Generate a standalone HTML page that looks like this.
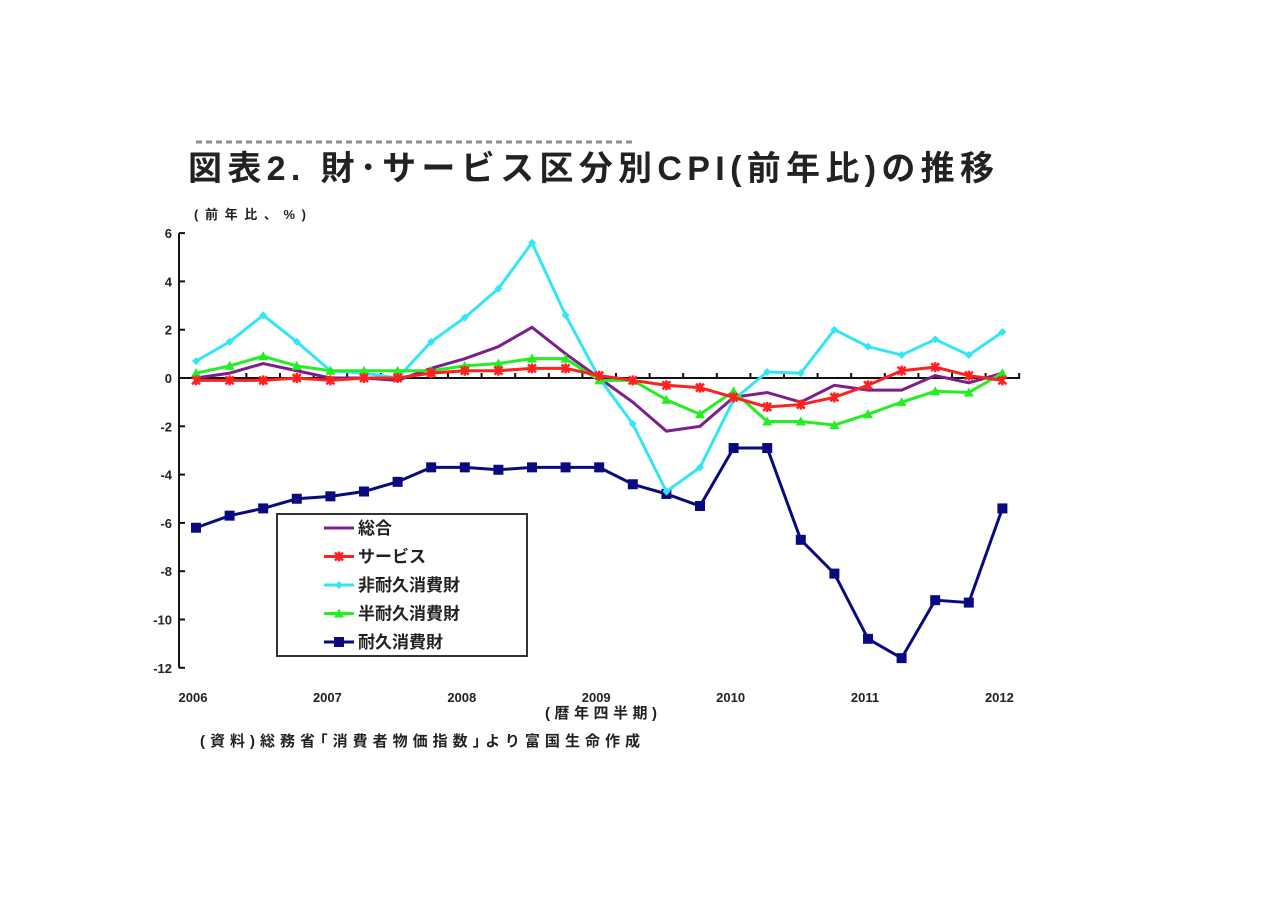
<!DOCTYPE html>
<html><head><meta charset="utf-8"><style>
body{margin:0;background:#fff;width:1280px;height:905px;overflow:hidden;font-family:"Liberation Sans","Noto Sans CJK JP",sans-serif;}
svg text{font-family:"Liberation Sans","Noto Sans CJK JP",sans-serif;}
</style></head><body>
<svg id="chart" width="1280" height="905">
<g><line x1="196" y1="142" x2="636" y2="142" stroke="#444" stroke-width="3" stroke-dasharray="6 4" opacity="0.6"/></g>
<text x="188" y="180" font-size="34" font-weight="bold" fill="#222" textLength="806" lengthAdjust="spacing">図表2. 財･サービス区分別CPI(前年比)の推移</text>
<text x="194" y="219" font-size="13" font-weight="bold" fill="#222" textLength="112" lengthAdjust="spacing">(前年比、%)</text>
<g id="axes"></g><g id="series"></g>
<g>
<rect x="277" y="514" width="250" height="142" fill="#fff" stroke="#333" stroke-width="2"/>
<g id="legend-items"></g>
</g>
<text x="545" y="718" font-size="15" font-weight="bold" fill="#222" textLength="112" lengthAdjust="spacing">(暦年四半期)</text>
<text x="200" y="746" font-size="15" font-weight="bold" fill="#222" textLength="440" lengthAdjust="spacing">(資料)総務省｢消費者物価指数｣より富国生命作成</text>
</svg>
<script>
const yTicks=[6,4,2,0,-2,-4,-6,-8,-10,-12];
const yearLabels=["2006","2007","2008","2009","2010","2011","2012"];
const seriesNames=["総合","サービス","非耐久消費財","半耐久消費財","耐久消費財"];
const total=[0.0,0.2,0.6,0.3,0.0,0.0,-0.1,0.4,0.8,1.3,2.1,1.0,0.0,-1.0,-2.2,-2.0,-0.8,-0.6,-1.0,-0.3,-0.5,-0.5,0.1,-0.2,0.2];
const service=[-0.1,-0.1,-0.1,0.0,-0.1,0.0,0.0,0.2,0.3,0.3,0.4,0.4,0.1,-0.1,-0.3,-0.4,-0.8,-1.2,-1.1,-0.8,-0.3,0.3,0.45,0.1,-0.1];
const nonDurable=[0.7,1.5,2.6,1.5,0.3,0.2,0.0,1.5,2.5,3.7,5.6,2.6,0.0,-1.9,-4.7,-3.7,-0.9,0.25,0.2,2.0,1.3,0.95,1.6,0.95,1.9];
const semiDurable=[0.2,0.5,0.9,0.5,0.3,0.3,0.3,0.3,0.5,0.6,0.8,0.8,-0.1,-0.1,-0.9,-1.5,-0.55,-1.8,-1.8,-1.95,-1.5,-1.0,-0.55,-0.6,0.2];
const durable=[-6.2,-5.7,-5.4,-5.0,-4.9,-4.7,-4.3,-3.7,-3.7,-3.8,-3.7,-3.7,-3.7,-4.4,-4.8,-5.3,-2.9,-2.9,-6.7,-8.1,-10.8,-11.6,-9.2,-9.3,-5.4];
const NS="http://www.w3.org/2000/svg";
function X(i){return 196+i*33.6;}
function Y(v){return 378-v*24.15;}
function mk(t,a,p){const e=document.createElementNS(NS,t);for(const k in a)e.setAttribute(k,a[k]);p.appendChild(e);return e;}
const ax=document.getElementById('axes');
mk('line',{x1:179,y1:Y(6),x2:179,y2:Y(-12),stroke:'#111','stroke-width':2},ax);
yTicks.forEach(v=>{
  mk('line',{x1:179,y1:Y(v),x2:185,y2:Y(v),stroke:'#111','stroke-width':2},ax);
  const t=mk('text',{x:172,y:Y(v)+5,'text-anchor':'end','font-size':13,'font-weight':'bold',fill:'#222'},ax);
  
  
  t.textContent=v;
});
mk('line',{x1:179,y1:Y(0),x2:1020,y2:Y(0),stroke:'#111','stroke-width':2},ax);
for(let i=1;i<=24;i++)mk('line',{x1:X(i)+16.8,y1:Y(0),x2:X(i)+16.8,y2:Y(0)-5,stroke:'#111','stroke-width':2},ax);
yearLabels.forEach((y,i)=>{
  const t=mk('text',{x:X(i*4)-3,y:702,'text-anchor':'middle','font-size':13,'font-weight':'bold',fill:'#222'},ax);
  
  
  t.textContent=y;
});
const colors=['#7b1f8c','#ff2020','#33e5f5','#22ee22','#0a0a80'];
const datasets=[total,service,nonDurable,semiDurable,durable];
const sg=document.getElementById('series');
function marker(k,x,y,g){
  const c=colors[k];
  if(k===1){mk('path',{d:`M${x-4} ${y-4}L${x+4} ${y+4}M${x-4} ${y+4}L${x+4} ${y-4}M${x} ${y-5}L${x} ${y+5}`,stroke:c,'stroke-width':2.5},g);}
  else if(k===2){mk('path',{d:`M${x} ${y-4}L${x+4} ${y}L${x} ${y+4}L${x-4} ${y}Z`,fill:c},g);}
  else if(k===3){mk('path',{d:`M${x} ${y-5}L${x+5} ${y+4}L${x-5} ${y+4}Z`,fill:c},g);}
  else if(k===4){mk('rect',{x:x-5,y:y-5,width:10,height:10,fill:c},g);}
}
[4,0,2,3,1].forEach(k=>{
  const g=mk('g',{},sg);
  
  
  const d=datasets[k];
  mk('polyline',{points:d.map((v,i)=>X(i)+','+Y(v)).join(' '),fill:'none',stroke:colors[k],'stroke-width':3},g);
  d.forEach((v,i)=>marker(k,X(i),Y(v),g));
});
const lg=document.getElementById('legend-items');
seriesNames.forEach((n,k)=>{
  const y=528+k*28.5;
  const g=mk('g',{},lg);
  
  
  mk('line',{x1:324,y1:y,x2:354,y2:y,stroke:colors[k],'stroke-width':3},g);
  marker(k,339,y,g);
  const t=mk('text',{x:358,y:y+6,'font-size':17,'font-weight':'bold',fill:'#222'},g);
  t.textContent=n;
});
</script>
</body></html>
